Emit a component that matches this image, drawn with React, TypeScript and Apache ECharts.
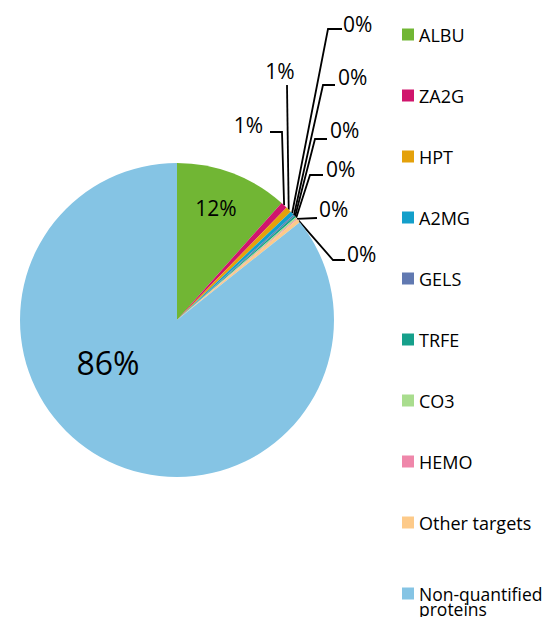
import React, { useEffect, useRef } from "react";
import * as echarts from "echarts";

const categories = [
  "ALBU",
  "ZA2G",
  "HPT",
  "A2MG",
  "GELS",
  "TRFE",
  "CO3",
  "HEMO",
  "Other targets",
  "Non-quantified proteins",
];
const values = [11.6, 0.7, 0.6, 0.4, 0.15, 0.2, 0.15, 0.1, 0.4, 85.7];
const colors = [
  "#71B634",
  "#D0156C",
  "#E4A10B",
  "#139FCA",
  "#6179B1",
  "#16A08B",
  "#A9DD8E",
  "#EF87AA",
  "#FDCA89",
  "#85C4E4",
];

// label placement (layout only)
const labelSpots: any[] = [
  { x: 216, y: 208, align: "center" },
  { x: 263, y: 125, align: "right", line: [[282, 132], [270, 132]] },
  { x: 280, y: 71, align: "center", line: [[287, 85], [287, 85]] },
  { x: 343, y: 24, align: "left", line: [[328, 29], [342, 29]] },
  { x: 338, y: 77, align: "left", line: [[323, 85], [335, 85]] },
  { x: 330, y: 130, align: "left", line: [[315, 139], [327, 139]] },
  { x: 326, y: 169, align: "left", line: [[310, 175], [323, 175]] },
  { x: 319, y: 209, align: "left", line: [[317, 218], [317, 218]] },
  { x: 347, y: 254, align: "left", line: [[333, 260], [345, 260]] },
  { x: 108, y: 362, align: "center" },
];

const FONT = "Open Sans";

export default function App() {
  const ref = useRef<HTMLDivElement>(null);
  useEffect(() => {
    if (!ref.current) return;
    const chart = echarts.init(ref.current, undefined, { renderer: "svg" });
    const total = values.reduce((a, b) => a + b, 0);
    const data = categories.map((name, i) => {
      const item: any = { name, value: values[i], itemStyle: { color: colors[i] } };
      if (i === 0 || i === categories.length - 1) {
        item.label = { position: "inside", fontSize: i === 0 ? 21 : 32 };
        item.labelLine = { show: false };
      }
      return item;
    });
    chart.setOption({
      animation: false,
      backgroundColor: "#ffffff",
      legend: [
        {
          orient: "vertical",
          left: 402,
          top: 24,
          padding: 0,
          itemWidth: 12,
          itemHeight: 12,
          itemGap: 40,
          icon: "rect",
          data: categories.slice(0, 9),
          textStyle: { fontFamily: FONT, fontSize: 18, lineHeight: 21, color: "#000" },
        },
        {
          orient: "vertical",
          left: 402,
          top: 569.5,
          padding: 0,
          itemWidth: 12,
          itemHeight: 12,
          icon: "rect",
          data: [categories[9]],
          formatter: () => "\nNon-quantified\nproteins",
          textStyle: {
            fontFamily: FONT,
            fontSize: 17.5,
            lineHeight: 15,
            color: "#000",
          },
        },
      ],
      series: [
        {
          type: "pie",
          center: [177, 320],
          radius: 157,
          startAngle: 90,
          clockwise: true,
          avoidLabelOverlap: false,
          itemStyle: { borderWidth: 0 },
          emphasis: { disabled: true },
          label: {
            show: true,
            position: "outside",
            fontFamily: FONT,
            fontSize: 21,
            color: "#000",
            formatter: (p: any) => Math.round((p.value / total) * 100) + "%",
          },
          labelLine: {
            show: true,
            length: 10,
            length2: 10,
            lineStyle: { color: "#000", width: 1.8 },
          },
          labelLayout: (params: any) => {
            const s = labelSpots[params.dataIndex];
            const out: any = { x: s.x, y: s.y, align: s.align, verticalAlign: "middle" };
            const pts = params.labelLinePoints;
            if (s.line && pts && pts[0]) {
              out.labelLinePoints = [pts[0], s.line[0], s.line[1]];
            }
            return out;
          },
          data,
        },
      ],
    });
    return () => chart.dispose();
  }, []);
  return (
    <div
      ref={ref}
      style={{ position: "fixed", left: 0, top: 0, width: 552, height: 617, background: "#fff" }}
    />
  );
}
